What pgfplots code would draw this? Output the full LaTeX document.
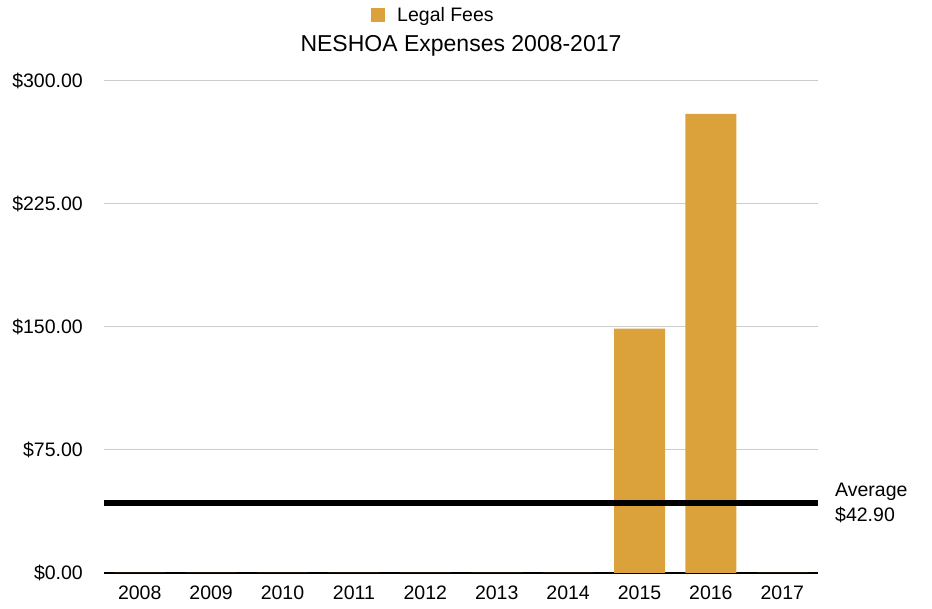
\documentclass[border=0pt]{standalone}
\usepackage{fontspec}
\setmainfont{Liberation Sans}
\usepackage{pgfplots}
\pgfplotsset{compat=1.18}
\definecolor{feegold}{HTML}{DBA23B}
\definecolor{gridgray}{HTML}{CCCCCC}
\newcommand{\chartfont}{\fontsize{19.5}{25}\selectfont}
\begin{document}
\begin{tikzpicture}
\path[use as bounding box] (0,0) rectangle (932pt,608pt);
\begin{axis}[
  at={(104pt,35pt)}, anchor=south west,
  scale only axis, width=714pt, height=492pt,
  xmin=-0.5, xmax=9.5, ymin=0, ymax=300,
  axis x line*=bottom, axis y line*=left,
  x axis line style={black, line width=2pt, -},
  y axis line style={draw=none},
  xtick={0,...,9},
  xticklabels={2008,2009,2010,2011,2012,2013,2014,2015,2016,2017},
  ytick={0,75,150,225,300},
  yticklabels={\$0.00,\$75.00,\$150.00,\$225.00,\$300.00},
  major tick length=0pt,
  ymajorgrids, grid style={gridgray, line width=1pt},
  tick label style={font=\chartfont, inner sep=0pt},
  xticklabel style={anchor=north, yshift=-13pt},
  yticklabel style={anchor=east, xshift=-21pt},
  /pgf/number format/assume math mode=true,
  title={NESHOA Expenses 2008-2017},
  title style={font=\fontsize{23}{27}\selectfont, at={(0.5,1.075)}, anchor=center, inner sep=0pt, yshift=-8pt},
  legend style={at={(0.374,1.134)}, anchor=west, draw=none, fill=none,
    inner sep=0pt, font=\chartfont, legend cell align=left,
    /tikz/every odd column/.append style={column sep=10pt}},
  legend image code/.code={\fill[feegold] (0pt,-7pt) rectangle (14pt,7pt);},
  clip=false,
]
\addplot[ybar, bar width=51pt, fill=feegold, draw=none] coordinates {
  (0,0)(1,0)(2,0)(3,0)(4,0)(5,0)(6,0)(7,149)(8,280)(9,0)};
\addlegendentry{Legal Fees}
\addplot[black, line width=6pt, forget plot] coordinates {(-0.5,42.9)(9.5,42.9)};
\node[anchor=west, align=left, inner sep=0pt, font=\chartfont, xshift=17pt]
  at (axis cs:9.5,42.9) {Average\\\$42.90};
\end{axis}
\end{tikzpicture}
\end{document}
